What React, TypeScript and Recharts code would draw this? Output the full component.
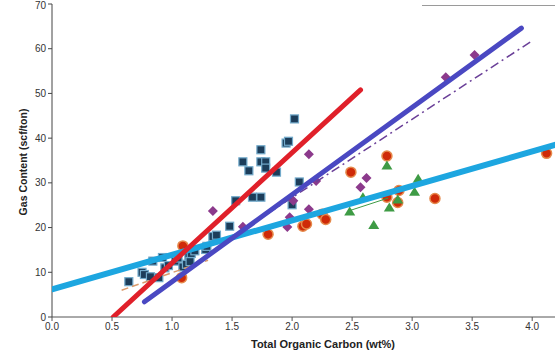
import { Scatter, ScatterChart, XAxis, YAxis } from "recharts";

// TOC (wt%) vs gas content (scf/ton), one pair of arrays per well group
const squareToc = [0.64, 0.75, 0.77, 0.82, 0.84, 0.89, 0.92, 0.94, 0.97, 1.03, 1.05, 1.09, 1.12, 1.14, 1.15, 1.16, 1.19, 1.28, 1.29, 1.34, 1.37, 1.48, 1.53, 1.59, 1.64, 1.67, 1.74, 1.74, 1.74, 1.78, 1.78, 1.87, 1.95, 1.97, 2.0, 2.02, 2.06];
const squareGas = [7.9, 10.0, 9.5, 9.0, 12.5, 8.8, 13.3, 11.0, 11.5, 12.5, 13.2, 11.2, 11.8, 13.6, 12.4, 14.2, 14.8, 15.1, 15.8, 18.0, 18.3, 20.3, 26.0, 34.7, 32.7, 26.8, 26.8, 34.7, 37.4, 34.7, 33.3, 32.4, 38.9, 39.3, 25.1, 44.3, 30.2];

const diamondToc = [1.34, 1.59, 1.96, 1.98, 2.01, 2.14, 2.14, 2.2, 2.57, 2.62, 3.28, 3.52];
const diamondGas = [23.7, 20.2, 20.1, 22.3, 26.0, 24.1, 36.4, 30.4, 29.0, 31.1, 53.6, 58.6];

const circleToc = [1.08, 1.09, 1.8, 2.09, 2.12, 2.25, 2.28, 2.49, 2.79, 2.79, 2.88, 2.89, 3.19, 4.12];
const circleGas = [8.8, 15.9, 18.5, 20.3, 20.8, 23.0, 21.8, 32.4, 36.0, 26.8, 25.6, 28.3, 26.5, 36.6];

const triangleToc = [2.48, 2.59, 2.68, 2.79, 2.81, 2.88, 3.02, 3.05];
const triangleGas = [23.6, 26.8, 20.6, 33.9, 24.5, 26.3, 28.0, 30.9];

// trend line end points [toc, gas]
const redTrend = [[0.51, 0], [2.57, 50.8]];
const blueTrend = [[0.77, 3.4], [3.91, 64.6]];
const dashTrend = [[1.8, 23.2], [3.99, 61.6]];
const cyanTrend = [[0, 6.2], [4.19, 38.5]];
const orangeTrend = [[0.58, 6.0], [1.3, 12.7]];
const greenTrend = [[2.48, 23.8], [2.8, 26.6]];

const xTicks = [0, 0.5, 1.0, 1.5, 2.0, 2.5, 3.0, 3.5, 4.0];
const yTicks = [0, 10, 20, 30, 40, 50, 60, 70];

const zip = (xs: number[], ys: number[]) => xs.map((x, i) => ({ x, y: ys[i] }));
const pts = (arr: number[][]) => arr.map(([x, y]) => ({ x, y }));

const SquareDot = (p: any) => (
  <rect x={p.cx - 4} y={p.cy - 4} width={8} height={8} fill="#1C3D5A" stroke="#72AACB" strokeWidth={1.2} />
);
const DiamondDot = (p: any) => (
  <polygon
    points={`${p.cx},${p.cy - 5} ${p.cx + 5},${p.cy} ${p.cx},${p.cy + 5} ${p.cx - 5},${p.cy}`}
    fill="#8C3A8C"
  />
);
const CircleDot = (p: any) => (
  <circle cx={p.cx} cy={p.cy} r={5} fill="#CF2A08" stroke="#E58A4C" strokeWidth={1.5} />
);
const TriangleDot = (p: any) => (
  <polygon
    points={`${p.cx},${p.cy - 5} ${p.cx + 5.5},${p.cy + 4} ${p.cx - 5.5},${p.cy + 4}`}
    fill="#3E9B45"
  />
);
const NoDot = () => <g />;

const tickStyle = { fontSize: 10, fill: "#333", fontFamily: "Liberation Sans, Arial, sans-serif" };

export default function App() {
  return (
    <div style={{ position: "fixed", left: 0, top: 0, width: 555, height: 353, background: "#fff", fontFamily: "Liberation Sans, Arial, sans-serif" }}>
      <ScatterChart width={555} height={353} margin={{ top: 4, right: 0, bottom: 0, left: 0 }}>
        <XAxis
          type="number"
          dataKey="x"
          domain={[0, 4.19]}
          ticks={xTicks}
          tickFormatter={(v: number) => v.toFixed(1)}
          height={36}
          tickSize={4}
          tick={tickStyle}
          stroke="#555"
          allowDataOverflow
        />
        <YAxis
          type="number"
          dataKey="y"
          domain={[0, 70]}
          ticks={yTicks}
          width={52}
          tickSize={4}
          tick={tickStyle}
          stroke="#444"
          allowDataOverflow
        />
        <Scatter data={zip(squareToc, squareGas)} shape={SquareDot} isAnimationActive={false} />
        <Scatter data={zip(diamondToc, diamondGas)} shape={DiamondDot} isAnimationActive={false} />
        <Scatter data={zip(circleToc, circleGas)} shape={CircleDot} isAnimationActive={false} />
        <Scatter data={zip(triangleToc, triangleGas)} shape={TriangleDot} isAnimationActive={false} />

        <Scatter data={pts(orangeTrend)} shape={NoDot} line={{ stroke: "#D99A6C", strokeWidth: 1.5, strokeDasharray: "7 4" }} isAnimationActive={false} />
        <Scatter data={pts(greenTrend)} shape={NoDot} line={{ stroke: "#3E9B45", strokeWidth: 1 }} isAnimationActive={false} />
        <Scatter data={pts(dashTrend)} shape={NoDot} line={{ stroke: "#6A3F98", strokeWidth: 1.5, strokeDasharray: "9 4 2 4" }} isAnimationActive={false} />
        <Scatter data={pts(cyanTrend)} shape={NoDot} line={{ stroke: "#1DA6E0", strokeWidth: 6, strokeLinecap: "round" }} isAnimationActive={false} />
        <Scatter data={pts(blueTrend)} shape={NoDot} line={{ stroke: "#4A48C2", strokeWidth: 5, strokeLinecap: "round" }} isAnimationActive={false} />
        <Scatter data={pts(redTrend)} shape={NoDot} line={{ stroke: "#E0202A", strokeWidth: 5, strokeLinecap: "round" }} isAnimationActive={false} />
      </ScatterChart>
      <div style={{ position: "absolute", left: 422, top: 5, width: 133, height: 1, background: "#9a9a9a" }} />
      <div style={{ position: "absolute", left: 200, top: 338, width: 246, textAlign: "center", fontSize: 11, fontWeight: "bold", color: "#222" }}>
        Total Organic Carbon (wt%)
      </div>
      <div
        style={{
          position: "absolute",
          left: 23,
          top: 162,
          transform: "translate(-50%, -50%) rotate(-90deg)",
          whiteSpace: "nowrap",
          fontSize: 10.5,
          fontWeight: "bold",
          color: "#222",
        }}
      >
        Gas Content (scf/ton)
      </div>
    </div>
  );
}
